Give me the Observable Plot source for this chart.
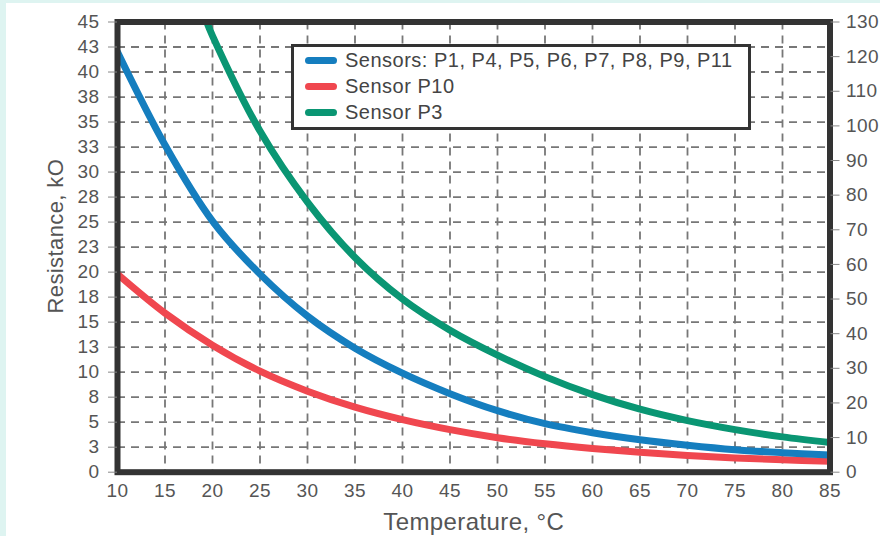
<!DOCTYPE html>
<html><head><meta charset="utf-8">
<script src="https://cdn.jsdelivr.net/npm/d3@7"></script>
<script src="https://cdn.jsdelivr.net/npm/@observablehq/plot@0.6"></script>
<style>
html,body{margin:0;padding:0;background:#def4f1;}
#wrap{position:relative;margin:3px 0 0 6px;width:874px;height:533px;background:#fff;overflow:hidden;font-family:"Liberation Sans",Arial,sans-serif;}
#legend{position:absolute;left:285px;top:41px;width:460px;height:86px;box-sizing:border-box;border:3px solid #333;background:#fff;}
.row{display:flex;align-items:center;height:26px;}
.sw{width:32px;height:7px;border-radius:4px;margin:0 8px 0 11px;flex:none;}
.lab{font-size:20px;letter-spacing:0.5px;color:#444;white-space:nowrap;}
</style></head><body><div id="wrap"><div id="legend"></div></div>
<script>
// Temperature (°C)
const temps = [10,15,20,25,30,35,40,45,50,55,60,65,70,75,80,85];
// Sensors P1, P4, P5, P6, P7, P8, P9, P11 (kΩ, left axis)
const blueR = [42.0,32.7,25.1,19.8,15.6,12.4,9.9,7.85,6.15,4.85,3.95,3.25,2.7,2.25,1.95,1.72];
// Sensor P10 (kΩ, left axis)
const redR = [19.8,15.9,12.7,10.1,8.1,6.5,5.25,4.25,3.45,2.85,2.38,2.0,1.68,1.43,1.24,1.1];
// Sensor P3 (kΩ, right axis)
const greenT = [19.4,20,25,30,35,40,45,50,55,60,65,70,75,80,85];
const greenR = [130,126,98.5,78,62,50,41,33.8,27.6,22.4,18.2,14.9,12.3,10.2,8.6];
const seriesNames = ["Sensors: P1, P4, P5, P6, P7, P8, P9, P11","Sensor P10","Sensor P3"];
const seriesColors = ["#157ebf","#f0474f","#0a9673"];
const leftTicks = d3.range(0,45.01,2.5);
const rightTicks = d3.range(0,131,10);
const xTicks = d3.range(10,86,5);

const K = 45/130; // right-axis units to left-axis units
const blueData = temps.map((t,i)=>({t, r: blueR[i]}));
const redData = temps.map((t,i)=>({t, r: redR[i]}));
const greenData = greenT.map((t,i)=>({t, r: greenR[i]*K}));

const gridStyle = {stroke:"#777", strokeOpacity:1, strokeWidth:1.8, strokeDasharray:"8,6"};
const chart = Plot.plot({
  width:874, height:533,
  marginLeft:111, marginRight:50.5, marginTop:18.5, marginBottom:64.3,
  style:{fontFamily:"Liberation Sans, Arial, sans-serif", fontSize:"19px", letterSpacing:"0.4px", color:"#555", background:"transparent"},
  x:{domain:[10,85]},
  y:{domain:[0,45]},
  marks:[
    Plot.gridY(leftTicks.slice(1,-1), gridStyle),
    Plot.gridX(xTicks.slice(1,-1), gridStyle),
    Plot.line(redData, {x:"t", y:"r", stroke:seriesColors[1], strokeWidth:7, curve:"catmull-rom", clip:true}),
    Plot.line(blueData, {x:"t", y:"r", stroke:seriesColors[0], strokeWidth:7, curve:"catmull-rom", clip:true}),
    Plot.line(greenData, {x:"t", y:"r", stroke:seriesColors[2], strokeWidth:7, curve:"catmull-rom", clip:true}),
    Plot.frame({stroke:"#333", strokeWidth:6}),
    Plot.axisY(leftTicks, {anchor:"left", tickSize:9, tickPadding:9, stroke:"#888", tickFormat:d=>String(Math.round(d)), label:null}),
    Plot.axisY(rightTicks.map(v=>v*K), {anchor:"right", tickSize:9, tickPadding:7, stroke:"#888", tickFormat:d=>String(Math.round(d/K)), label:null}),
    Plot.axisX(xTicks, {anchor:"bottom", tickSize:0, tickPadding:11, tickFormat:d=>String(d), label:null}),
    Plot.text(["Resistance, kO"], {text:d=>d, frameAnchor:"left", textAnchor:"middle", lineAnchor:"middle", dx:-62, dy:-11, rotate:-90, fontSize:22, fill:"#555"}),
    Plot.text(["Temperature, °C"], {text:d=>d, frameAnchor:"bottom", textAnchor:"middle", lineAnchor:"middle", dy:50.5, fontSize:24, fill:"#555"})
  ]
});
document.getElementById("wrap").prepend(chart);

const legend = document.getElementById("legend");
seriesNames.forEach((name,i)=>{
  const row = document.createElement("div");
  row.className = "row";
  const sw = document.createElement("span");
  sw.className = "sw"; sw.style.background = seriesColors[i];
  const lab = document.createElement("span");
  lab.className = "lab"; lab.textContent = name;
  row.append(sw, lab);
  legend.append(row);
});
</script>
</body></html>
